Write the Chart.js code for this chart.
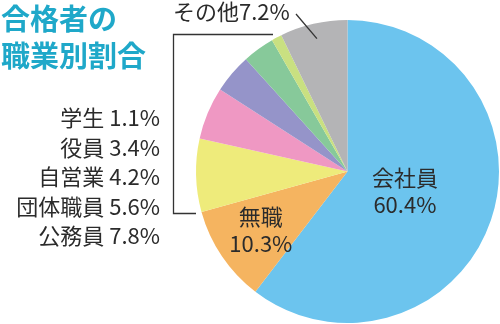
<!DOCTYPE html>
<html lang="ja">
<head>
<meta charset="utf-8">
<script src="https://cdn.jsdelivr.net/npm/chart.js@4/dist/chart.umd.min.js"></script>
<style>
  html, body { margin: 0; padding: 0; background: #fff; }
  #wrap { width: 500px; height: 324px; position: relative; }
</style>
</head>
<body>
<div id="wrap"><canvas id="c" width="500" height="324"></canvas></div>
<script>
// Occupations, clockwise from 12 o'clock
const categories = ['会社員', '無職', '公務員', '団体職員', '自営業', '役員', '学生', 'その他'];
const shares = [60.4, 10.3, 7.8, 5.6, 4.2, 3.4, 1.1, 7.2];
const sliceColors = ['#6cc4ee', '#f5b460', '#eeeb7b', '#ef98c3', '#9594c9', '#87c99a', '#c9e081', '#b4b4b6'];
const titleLines = ['合格者の', '職業別割合'];

// Which slices get an in-slice label, and which are listed on the left
const insideIdx = [0, 1];
const leftListIdx = [6, 5, 4, 3, 2]; // top to bottom
const otherIdx = 7;

const FONT = '"Noto Sans CJK JP", "Noto Sans", sans-serif';
const TEXT = '#2b2b2b';

const annotate = {
  id: 'annotate',
  afterDraw(chart) {
    const ctx = chart.ctx;
    const arcs = chart.getDatasetMeta(0).data;
    const cx = arcs[0].x, cy = arcs[0].y, R = arcs[0].outerRadius;
    const fmt = v => v.toFixed(1) + '%';
    ctx.save();

    // Title
    ctx.fillStyle = '#1fa8c9';
    ctx.font = 'bold 29px ' + FONT;
    ctx.textAlign = 'left';
    ctx.textBaseline = 'middle';
    ctx.fillText(titleLines[0], 1, 19);
    ctx.fillText(titleLines[1], 1, 56);

    // In-slice labels
    const radFrac = { 0: 0.4, 1: 0.69 };
    ctx.fillStyle = TEXT;
    ctx.font = '22px ' + FONT;
    ctx.textAlign = 'center';
    insideIdx.forEach(i => {
      const a = arcs[i];
      const mid = (a.startAngle + a.endAngle) / 2;
      const r = R * radFrac[i];
      const x = cx + Math.cos(mid) * r;
      const y = cy + Math.sin(mid) * r;
      ctx.fillText(categories[i], x, y - 13);
      ctx.fillText(fmt(shares[i]), x, y + 14);
    });

    // Left-hand list of small slices
    ctx.font = '22px ' + FONT;
    ctx.textAlign = 'right';
    leftListIdx.forEach((i, k) => {
      ctx.fillText(categories[i] + ' ' + fmt(shares[i]), 160, 118 + k * 29.5);
    });

    // Bracket grouping the listed slices
    ctx.strokeStyle = '#333';
    ctx.lineWidth = 1.3;
    ctx.beginPath();
    ctx.moveTo(273, 34.5);
    ctx.lineTo(173.5, 34.5);
    ctx.lineTo(173.5, 213.5);
    ctx.lineTo(196, 213.5);
    ctx.stroke();

    // "Other" label with a leader into its slice
    ctx.textAlign = 'left';
    ctx.fillText(categories[otherIdx] + fmt(shares[otherIdx]), 173, 12);
    const o = arcs[otherIdx];
    const om = (o.startAngle + o.endAngle) / 2;
    ctx.beginPath();
    ctx.moveTo(296, 14);
    ctx.lineTo(cx + Math.cos(om) * R * 0.9, cy + Math.sin(om) * R * 0.9);
    ctx.stroke();

    ctx.restore();
  }
};

new Chart(document.getElementById('c'), {
  type: 'pie',
  data: {
    labels: categories,
    datasets: [{
      data: shares,
      backgroundColor: sliceColors,
      borderWidth: 0
    }]
  },
  options: {
    responsive: false,
    animation: false,
    layout: { padding: { left: 196, right: 1, top: 20, bottom: 1 } },
    plugins: { legend: { display: false }, tooltip: { enabled: false } }
  },
  plugins: [annotate]
});
</script>
</body>
</html>
